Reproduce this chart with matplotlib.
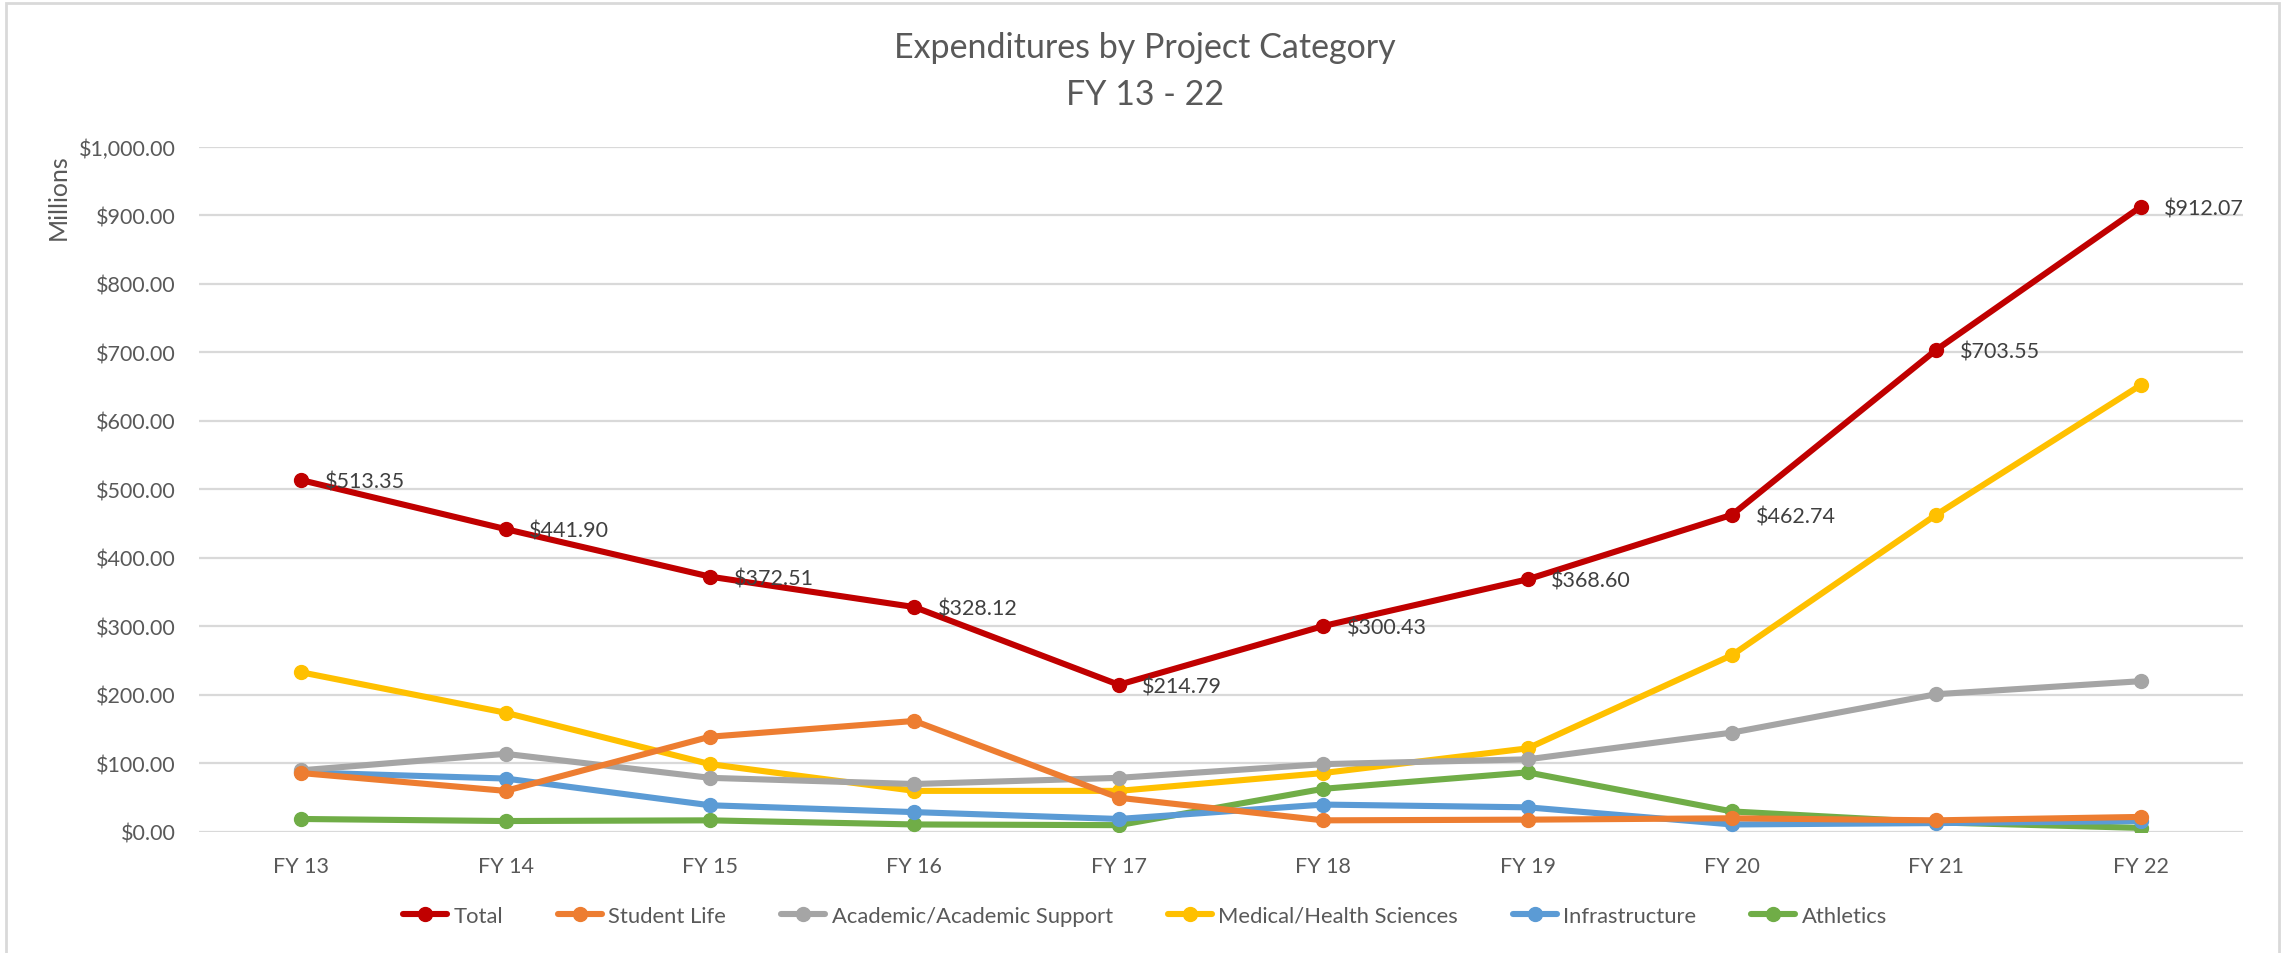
import matplotlib
matplotlib.use("Agg")
import matplotlib.pyplot as plt
from matplotlib.ticker import FuncFormatter, MultipleLocator
from matplotlib.patches import Rectangle

plt.rcParams['font.family'] = ['Lato', 'DejaVu Sans']

categories = ["FY 13", "FY 14", "FY 15", "FY 16", "FY 17", "FY 18", "FY 19", "FY 20", "FY 21", "FY 22"]
total = [513.35, 441.90, 372.51, 328.12, 214.79, 300.43, 368.60, 462.74, 703.55, 912.07]
student_life = [86, 60, 139, 162, 50, 17, 18, 20, 17, 22]
academic = [90, 114, 79, 70, 79, 99, 106, 145, 201, 220]
medical = [233, 174, 99, 60, 60, 86, 122, 258, 463, 652]
infrastructure = [87, 78, 39, 29, 19, 40, 36, 11, 13, 16]
athletics = [19, 16, 17, 11, 10, 63, 87, 30, 14, 6]

series = [
    ("Total", total, "#C00000"),
    ("Student Life", student_life, "#ED7D31"),
    ("Academic/Academic Support", academic, "#A5A5A5"),
    ("Medical/Health Sciences", medical, "#FFC000"),
    ("Infrastructure", infrastructure, "#5B9BD5"),
    ("Athletics", athletics, "#70AD47"),
]

W, H = 2290, 954
fig = plt.figure(figsize=(W / 100, H / 100), dpi=100)
fig.patch.set_facecolor("white")
ax = fig.add_axes([199 / W, 1 - 833 / H, (2243 - 199) / W, (833 - 147.5) / H])

x = list(range(len(categories)))
handles = {}
for name, vals, col in reversed(series):
    ln, = ax.plot(x, vals, color=col, lw=4.4, marker='o', markersize=10,
                  solid_capstyle='round', solid_joinstyle='round', label=name, zorder=3)
    handles[name] = ln

for xi, v in zip(x, total):
    ax.annotate(f"${v:,.2f}", (xi, v), xytext=(17, -1), textcoords='offset points',
                ha='left', va='center', fontsize=15.5, color='#404040', zorder=5)

ax.set_xlim(-0.5, len(categories) - 0.5)
ax.set_ylim(0, 1000)
ax.yaxis.set_major_locator(MultipleLocator(100))
ax.yaxis.set_major_formatter(FuncFormatter(lambda v, p: f"${v:,.2f}"))
ax.set_xticks(x)
ax.set_xticklabels(categories)
ax.tick_params(axis='both', length=0, labelsize=15.5, labelcolor='#595959')
ax.tick_params(axis='x', pad=17)
ax.tick_params(axis='y', pad=17)
ax.grid(axis='y', color='#D9D9D9', lw=1.6, zorder=0)
ax.set_axisbelow(True)
for s in ax.spines.values():
    s.set_visible(False)

fig.text(58 / W, 1 - 197 / H, "Millions", rotation=90, ha='center', va='center',
         fontsize=18, color='#595959')

fig.text(0.5, 1 - 48 / H, "Expenditures by Project Category", ha='center', va='center',
         fontsize=24.5, color='#595959')
fig.text(0.5, 1 - 95 / H, "FY 13 - 22", ha='center', va='center',
         fontsize=24.5, color='#595959')

order = [name for name, _, _ in series]
leg = fig.legend([handles[n] for n in order], order, loc='center', bbox_to_anchor=(0.5, 1 - 917 / H),
                 ncol=6, frameon=False, fontsize=15.8, handlelength=2.0, handletextpad=0.3,
                 columnspacing=2.5, markerscale=1.0)
for t in leg.get_texts():
    t.set_color('#595959')

fig.patches.append(Rectangle((6 / W, -0.01), (2279 - 6) / W, 1 - 4 / H + 0.01,
                             transform=fig.transFigure, fill=False, edgecolor='#D9D9D9', lw=2))

fig.savefig("out.png", dpi=100)
